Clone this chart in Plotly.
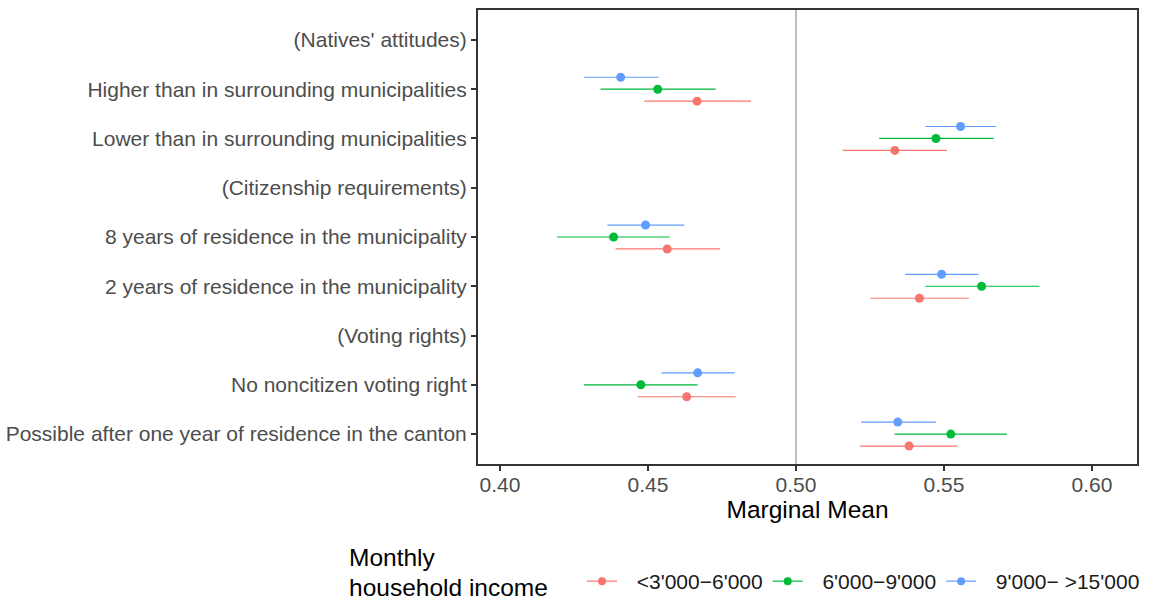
import plotly.graph_objects as go

# Row labels, top to bottom (attribute headers in parentheses)
row_labels = [
    "(Natives' attitudes)",
    "Higher than in surrounding municipalities",
    "Lower than in surrounding municipalities",
    "(Citizenship requirements)",
    "8 years of residence in the municipality",
    "2 years of residence in the municipality",
    "(Voting rights)",
    "No noncitizen voting right",
    "Possible after one year of residence in the canton",
]

# Attribute levels that carry estimates (row numbers, 1 = top)
level_rows = [2, 3, 5, 6, 8, 9]

groups = ["<3'000\u22126'000", "6'000\u22129'000", "9'000\u2212 >15'000"]
colors = ["#F8766D", "#00BA38", "#619CFF"]

# Marginal means and 95% CI bounds per income group, one value per level row
mm_low = [0.4666, 0.5334, 0.4565, 0.5417, 0.4631, 0.5382]
lo_low = [0.4488, 0.5158, 0.4391, 0.5251, 0.4466, 0.5217]
hi_low = [0.4848, 0.5510, 0.4744, 0.5584, 0.4796, 0.5545]

mm_mid = [0.4533, 0.5473, 0.4384, 0.5627, 0.4476, 0.5523]
lo_mid = [0.4340, 0.5281, 0.4193, 0.5437, 0.4284, 0.5333]
hi_mid = [0.4729, 0.5668, 0.4574, 0.5822, 0.4668, 0.5713]

mm_high = [0.4408, 0.5556, 0.4492, 0.5492, 0.4668, 0.5344]
lo_high = [0.4284, 0.5437, 0.4363, 0.5369, 0.4546, 0.5220]
hi_high = [0.4536, 0.5676, 0.4623, 0.5617, 0.4793, 0.5473]

x_ticks = [0.40, 0.45, 0.50, 0.55, 0.60]
reference_value = 0.50

estimates = [(mm_low, lo_low, hi_low), (mm_mid, lo_mid, hi_mid), (mm_high, lo_high, hi_high)]
dodge = [0.243, 0.0, -0.243]  # vertical offset of each group within a row

FONT = "Liberation Sans, Arial, Helvetica, sans-serif"

# panel placement in pixels
W, H = 1157, 606
PL, PR, PT, PB = 478, 1137, 10, 464.5

fig = go.Figure()

for name, col, (mm, lo, hi), dy in zip(groups, colors, estimates, dodge):
    ys = [r + dy for r in level_rows]
    fig.add_trace(go.Scatter(
        x=mm, y=ys, mode="markers",
        marker=dict(color=col, size=9),
        error_x=dict(type="data", symmetric=False,
                     array=[h - m for h, m in zip(hi, mm)],
                     arrayminus=[m - l for m, l in zip(mm, lo)],
                     color=col, thickness=1.2, width=0),
        showlegend=False, hoverinfo="skip",
    ))
    # legend key: short line with a dot
    fig.add_trace(go.Scatter(
        x=[None], y=[None], mode="lines+markers", name="\u2002\u2009" + name,
        line=dict(color=col, width=1.2), marker=dict(color=col, size=8),
    ))

fig.add_shape(type="line", xref="x", yref="paper",
              x0=reference_value, x1=reference_value, y0=0, y1=1,
              line=dict(color="#bdbdbd", width=2), layer="below")

n = len(row_labels)
pad = 30 / 49.375
fig.update_yaxes(
    range=[n + pad, 1 - pad], automargin=False,
    tickmode="array", tickvals=list(range(1, n + 1)), ticktext=row_labels,
    ticks="outside", ticklen=5, tickwidth=2, tickcolor="#333333",
    tickfont=dict(family=FONT, size=21, color="#4d4d4d"),
    showgrid=False, zeroline=False,
    showline=True, mirror=True, linecolor="#333333", linewidth=2,
)
fig.update_xaxes(
    range=[0.3926, 0.6152], automargin=False,
    tickmode="array", tickvals=x_ticks, ticktext=[f"{v:.2f}" for v in x_ticks],
    ticks="outside", ticklen=5, tickwidth=2, tickcolor="#333333",
    ticklabelstandoff=-4,
    tickfont=dict(family=FONT, size=21, color="#4d4d4d"),
    showgrid=False, zeroline=False,
    showline=True, mirror=True, linecolor="#333333", linewidth=2,
    title=dict(text="Marginal Mean", font=dict(family=FONT, size=24.5, color="#000000"), standoff=1),
)

def paper_xy(px, py):
    return (px - PL) / (PR - PL), (PB - py) / (PB - PT)

for text, py in [("Monthly", 558), ("household income", 588)]:
    ax, ay = paper_xy(347, py)
    fig.add_annotation(text=text, xref="paper", yref="paper", showarrow=False,
                       x=ax, y=ay, xanchor="left", yanchor="middle",
                       font=dict(family=FONT, size=24.5, color="#000000"))

fig.update_layout(
    width=W, height=H,
    margin=dict(l=PL, r=W - PR, t=PT, b=H - PB, autoexpand=False),
    plot_bgcolor="white", paper_bgcolor="white",
    legend=dict(orientation="h", xref="container", yref="container",
                x=582 / W, y=1 - 581.5 / H, xanchor="left", yanchor="middle",
                font=dict(family=FONT, size=21, color="#1a1a1a"),
                itemwidth=30, tracegroupgap=0, bgcolor="rgba(0,0,0,0)"),
)

fig.write_html("out.html")
